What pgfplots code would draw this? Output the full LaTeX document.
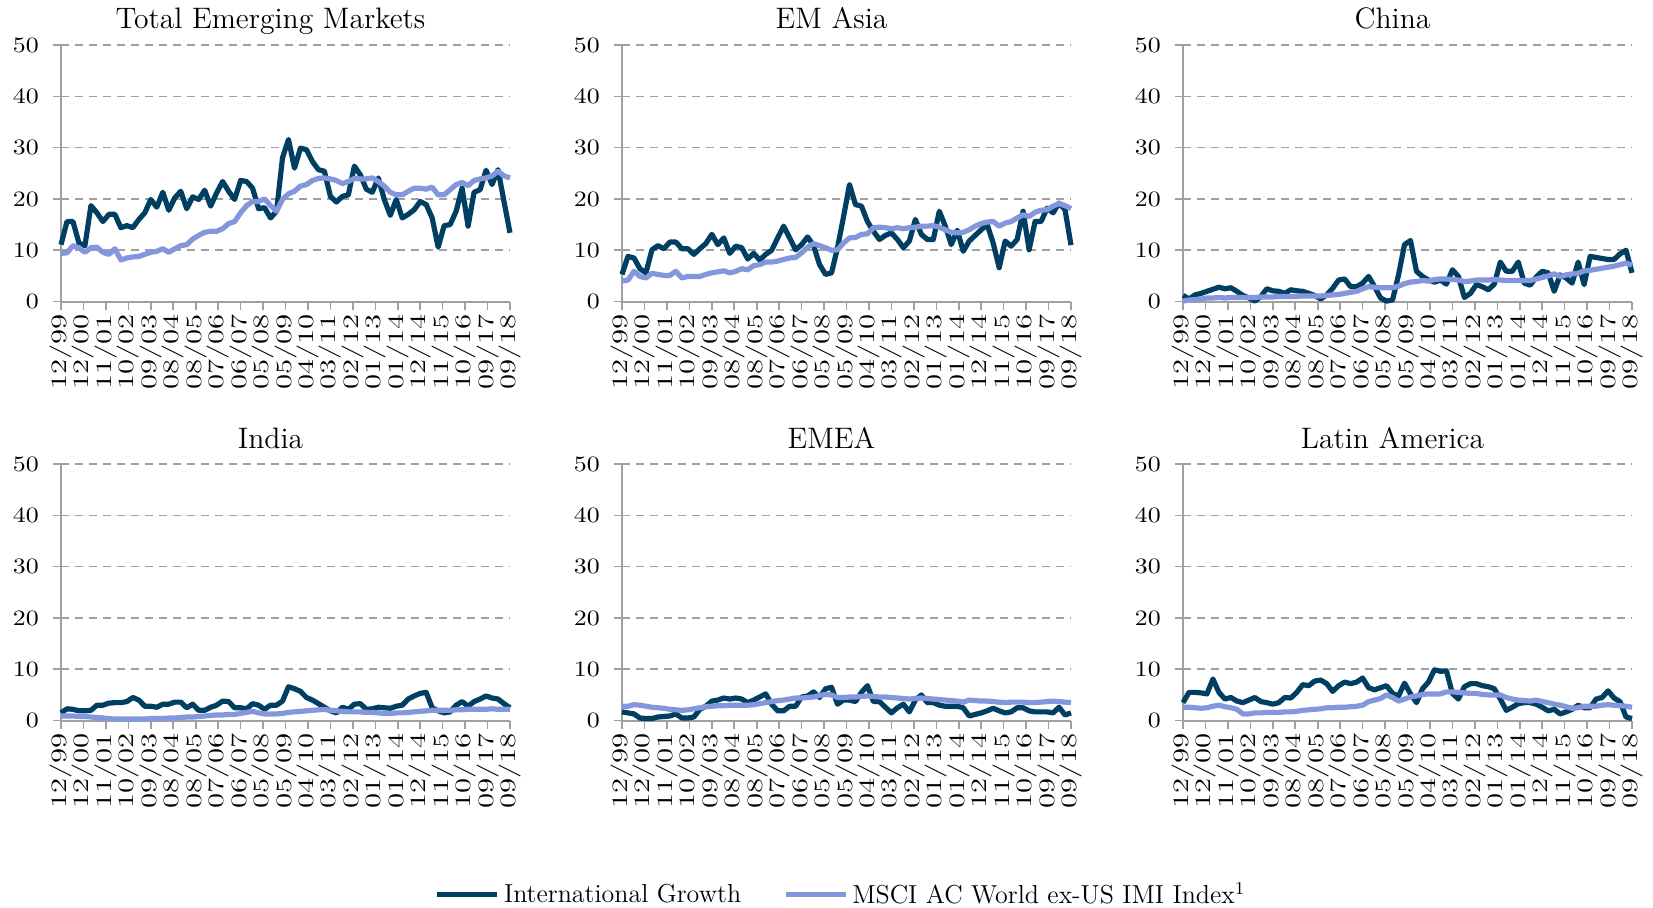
\documentclass[border=0pt]{standalone}
\usepackage{pgfplots}
\usepackage{pgfplotstable}
\pgfplotsset{compat=1.18}
\definecolor{tgdark}{HTML}{003F62}
\definecolor{tglight}{HTML}{8496DC}
\definecolor{axgray}{HTML}{A0A0A0}
\pgfplotstableread{
q temg temm asg asm cng cnm ing inm emg emm lag lam
0 11.1 9.4 5.3 4.0 1.2 0.1 1.5 0.9 1.7 2.8 3.5 2.6
1 15.6 9.5 8.8 4.2 0.5 0.3 2.3 0.9 1.5 2.8 5.5 2.6
2 15.6 10.9 8.5 5.9 1.3 0.4 2.2 0.9 1.3 3.1 5.5 2.5
3 11.4 10.5 6.4 4.9 1.6 0.5 1.9 0.8 0.5 3.0 5.4 2.4
4 10.9 9.6 5.6 4.6 2.0 0.7 1.9 0.8 0.4 2.8 5.2 2.5
5 18.7 10.5 10.1 5.5 2.4 0.7 2.0 0.7 0.4 2.6 8.1 2.8
6 17.3 10.6 10.9 5.3 2.8 0.8 3.0 0.6 0.7 2.5 5.5 3.0
7 15.6 9.6 10.3 5.1 2.5 0.7 3.0 0.5 0.8 2.4 4.2 2.7
8 17.0 9.2 11.6 5.1 2.7 0.8 3.4 0.4 0.9 2.2 4.5 2.5
9 17.0 10.3 11.6 5.9 2.0 0.8 3.5 0.3 1.3 2.1 3.8 2.2
10 14.4 8.1 10.3 4.6 1.2 0.8 3.5 0.3 0.5 2.0 3.5 1.3
11 14.8 8.5 10.3 4.9 0.7 0.8 3.7 0.3 0.5 2.1 4.0 1.3
12 14.4 8.7 9.2 4.9 0.1 0.8 4.5 0.3 0.7 2.3 4.5 1.5
13 16.0 8.8 10.3 4.9 1.0 0.9 4.0 0.3 2.2 2.5 3.7 1.5
14 17.3 9.2 11.3 5.3 2.5 0.9 2.8 0.3 2.8 2.7 3.5 1.6
15 19.9 9.6 13.1 5.6 2.1 0.9 2.8 0.4 3.8 2.8 3.2 1.6
16 18.4 9.8 11.1 5.8 2.0 1.0 2.6 0.4 4.0 2.9 3.5 1.6
17 21.3 10.3 12.4 6.0 1.6 1.0 3.2 0.4 4.4 2.9 4.5 1.7
18 17.8 9.6 9.4 5.6 2.3 1.0 3.2 0.5 4.2 3.0 4.4 1.7
19 20.2 10.3 10.8 5.9 2.1 1.0 3.6 0.5 4.4 3.0 5.5 1.8
20 21.5 10.9 10.5 6.4 2.0 1.1 3.6 0.6 4.2 3.0 7.0 2.0
21 18.1 11.1 8.3 6.2 1.6 1.1 2.5 0.7 3.5 3.0 6.8 2.1
22 20.4 12.2 9.4 7.0 1.2 1.1 3.2 0.7 4.0 3.1 7.7 2.2
23 19.9 12.9 8.1 7.2 0.5 1.1 2.0 0.8 4.6 3.3 7.9 2.3
24 21.7 13.5 9.2 7.7 1.3 1.2 2.0 0.9 5.2 3.5 7.2 2.5
25 18.6 13.7 10.0 7.7 2.6 1.3 2.6 1.0 3.2 3.7 5.7 2.5
26 21.2 13.7 12.4 7.9 4.2 1.4 3.0 1.1 1.9 3.9 6.8 2.6
27 23.4 14.2 14.7 8.2 4.4 1.6 3.8 1.1 1.9 4.0 7.5 2.6
28 21.5 15.2 12.4 8.5 2.9 1.8 3.7 1.2 2.8 4.2 7.2 2.7
29 19.9 15.6 10.1 8.6 2.9 2.0 2.5 1.2 2.8 4.4 7.5 2.8
30 23.6 17.3 11.1 9.5 3.6 2.5 2.5 1.4 4.6 4.4 8.3 3.0
31 23.4 18.7 12.6 10.6 4.9 2.9 2.3 1.6 4.8 4.5 6.4 3.7
32 22.1 19.5 10.9 11.3 2.9 2.8 3.3 1.8 5.6 4.6 6.0 4.0
33 18.1 19.5 7.2 10.9 0.7 2.7 3.0 1.5 4.5 4.9 6.4 4.3
34 18.3 20.0 5.3 10.5 0.1 2.7 2.2 1.3 6.2 5.1 6.8 5.0
35 16.3 18.7 5.6 10.0 0.3 2.7 3.0 1.3 6.5 5.0 5.3 4.5
36 17.6 17.6 10.5 10.1 5.2 3.0 3.0 1.3 3.2 4.5 4.8 3.8
37 28.0 19.9 16.5 11.4 11.1 3.5 3.8 1.4 4.0 4.5 7.3 4.2
38 31.6 21.0 22.8 12.4 11.9 3.8 6.6 1.6 4.0 4.6 5.2 4.6
39 26.0 21.5 18.9 12.5 5.9 3.9 6.2 1.7 3.7 4.6 3.5 4.8
40 29.9 22.5 18.6 13.1 4.9 4.1 5.7 1.8 5.5 4.7 6.2 5.1
41 29.6 22.8 15.6 13.2 4.2 4.0 4.5 1.9 6.8 4.8 7.5 5.2
42 27.3 23.6 13.7 14.4 3.8 4.3 4.0 2.0 3.7 4.7 9.9 5.2
43 25.7 24.0 12.1 14.5 4.2 4.4 3.3 2.1 3.7 4.6 9.6 5.2
44 25.4 24.1 12.9 14.4 3.4 4.4 2.6 2.2 2.6 4.6 9.7 5.6
45 20.5 23.9 13.4 14.2 6.2 4.3 1.9 2.0 1.5 4.5 5.3 5.6
46 19.4 23.6 12.1 14.4 4.9 4.2 1.5 1.9 2.5 4.4 4.2 5.5
47 20.5 23.0 10.5 14.2 0.8 3.9 2.6 1.8 3.2 4.3 6.6 5.4
48 20.8 23.4 11.8 14.4 1.6 4.0 2.2 1.7 1.7 4.2 7.2 5.3
49 26.4 24.0 16.0 14.5 3.3 4.2 3.2 1.7 4.0 4.3 7.2 5.3
50 24.7 23.9 13.1 14.7 2.9 4.2 3.3 1.7 5.0 4.4 6.8 5.1
51 21.9 23.9 12.1 14.7 2.3 4.2 2.2 1.6 3.5 4.3 6.6 5.0
52 21.3 24.1 12.1 14.8 3.4 4.3 2.3 1.6 3.5 4.2 6.2 5.0
53 24.1 23.4 17.6 14.5 7.7 4.2 2.6 1.5 3.0 4.1 4.2 5.0
54 19.9 22.5 14.7 14.0 5.9 4.1 2.5 1.4 2.8 4.0 2.0 4.5
55 16.8 21.3 11.1 13.5 5.9 4.1 2.4 1.4 2.8 3.9 2.6 4.2
56 19.9 20.8 13.9 13.4 7.7 4.1 2.8 1.5 2.8 3.8 3.3 4.0
57 16.3 20.8 9.8 13.5 3.6 4.1 3.0 1.5 2.5 3.6 3.5 3.9
58 17.0 21.5 11.8 14.0 3.2 4.1 4.2 1.6 0.9 4.0 3.5 3.8
59 17.9 22.1 12.9 14.7 4.8 4.4 4.8 1.7 1.2 3.9 3.2 4.0
60 19.5 22.1 14.0 15.2 5.9 4.7 5.3 1.8 1.5 3.8 2.6 3.7
61 18.9 21.9 15.0 15.5 5.6 5.0 5.5 1.9 1.9 3.8 1.9 3.5
62 16.3 22.3 11.4 15.6 2.0 5.4 2.5 2.0 2.4 3.7 2.2 3.2
63 10.6 20.8 6.6 14.7 5.2 4.9 1.9 2.0 1.9 3.6 1.3 3.0
64 14.8 20.8 11.8 15.3 4.6 5.2 1.5 2.0 1.5 3.5 1.7 2.7
65 15.0 21.8 10.8 15.6 3.6 5.4 1.7 2.0 1.7 3.6 2.2 2.4
66 17.6 22.8 12.1 16.3 7.7 5.5 3.0 2.1 2.5 3.6 3.0 2.5
67 22.1 23.2 17.6 16.9 3.3 6.0 3.7 2.1 2.5 3.6 2.5 2.8
68 14.7 22.6 10.1 16.6 8.8 6.1 2.8 2.2 1.9 3.5 2.5 2.8
69 21.3 23.6 15.6 17.4 8.6 6.3 3.7 2.2 1.7 3.5 4.2 2.8
70 21.8 23.9 15.6 17.8 8.4 6.5 4.2 2.2 1.7 3.6 4.5 3.0
71 25.6 24.1 18.2 17.9 8.2 6.7 4.8 2.2 1.7 3.7 5.8 3.1
72 22.8 24.5 17.3 18.6 8.2 6.9 4.4 2.3 1.5 3.8 4.4 3.0
73 25.7 25.4 19.2 19.1 9.3 7.2 4.2 2.2 2.6 3.7 3.7 2.9
74 19.5 24.5 17.9 18.7 10.0 7.5 3.3 2.2 1.1 3.6 0.7 2.8
75 13.4 24.1 11.0 18.1 5.6 7.1 2.5 2.2 1.5 3.5 0.4 2.6
}\datatab
\pgfplotsset{
  panel/.style={
    scale only axis, width=224.5pt, height=128.3pt,
    xmin=0, xmax=75, ymin=0, ymax=50,
    axis x line=bottom, axis y line=left,
    axis line style={-, draw=axgray, line width=1pt},
    xtick={0,3.75,7.5,11.25,15,18.75,22.5,26.25,30,33.75,37.5,41.25,45,48.75,52.5,56.25,60,63.75,67.5,71.25,75},
    xticklabels={12/99,12/00,11/01,10/02,09/03,08/04,08/05,07/06,06/07,05/08,05/09,04/10,03/11,02/12,01/13,01/14,12/14,11/15,10/16,09/17,09/18},
    ytick={0,10,20,30,40,50},
    ymajorgrids, grid style={axgray, line width=0.8pt, dash pattern=on 4pt off 3pt},
    tick align=outside, major tick length=4pt,
    tick style={axgray, line width=0.8pt},
    x tick label style={rotate=90, xscale=1.4, anchor=east, font=\fontsize{11}{12}\selectfont, inner sep=1.5pt},
    y tick label style={xscale=1.18, font=\fontsize{10.8}{12}\selectfont, xshift=-2.5pt},
    title style={font=\fontsize{14.8}{16}\selectfont, at={(0.5,1)}, anchor=base, yshift=2pt, xshift=-7.5pt},
    clip=false,
  },
  gline/.style={tgdark, line width=2.6pt, line join=round, no markers},
  mline/.style={tglight, line width=2.6pt, line join=round, no markers},
}
\begin{document}
\begin{tikzpicture}
\path[use as bounding box] (0,0) rectangle (826.5pt,-454pt);
\begin{axis}[panel, at={(30.5pt,-22.5pt)}, anchor=north west, title={Total Emerging Markets}]
\addplot[gline] table[x=q, y=temg] {\datatab};
\addplot[mline] table[x=q, y=temm] {\datatab};
\end{axis}
\begin{axis}[panel, at={(311pt,-22.5pt)}, anchor=north west, title={EM Asia}]
\addplot[gline] table[x=q, y=asg] {\datatab};
\addplot[mline] table[x=q, y=asm] {\datatab};
\end{axis}
\begin{axis}[panel, at={(591.5pt,-22.5pt)}, anchor=north west, title={China}]
\addplot[gline] table[x=q, y=cng] {\datatab};
\addplot[mline] table[x=q, y=cnm] {\datatab};
\end{axis}
\begin{axis}[panel, at={(30.5pt,-232pt)}, anchor=north west, title={India}]
\addplot[gline] table[x=q, y=ing] {\datatab};
\addplot[mline] table[x=q, y=inm] {\datatab};
\end{axis}
\begin{axis}[panel, at={(311pt,-232pt)}, anchor=north west, title={EMEA},
  legend style={at={(0.49,-0.678)}, anchor=center, draw=none, fill=none,
    legend columns=2, font=\fontsize{13}{14}\selectfont,
    /tikz/every even column/.append style={column sep=19pt}},
  legend image code/.code={\draw[#1] (0pt,0pt) -- (30pt,0pt);}]
\addplot[gline] table[x=q, y=emg] {\datatab};
\addplot[mline] table[x=q, y=emm] {\datatab};
\legend{International Growth, MSCI AC World ex-US IMI Index\textsuperscript{1}}
\end{axis}
\begin{axis}[panel, at={(591.5pt,-232pt)}, anchor=north west, title={Latin America}]
\addplot[gline] table[x=q, y=lag] {\datatab};
\addplot[mline] table[x=q, y=lam] {\datatab};
\end{axis}
\end{tikzpicture}
\end{document}
